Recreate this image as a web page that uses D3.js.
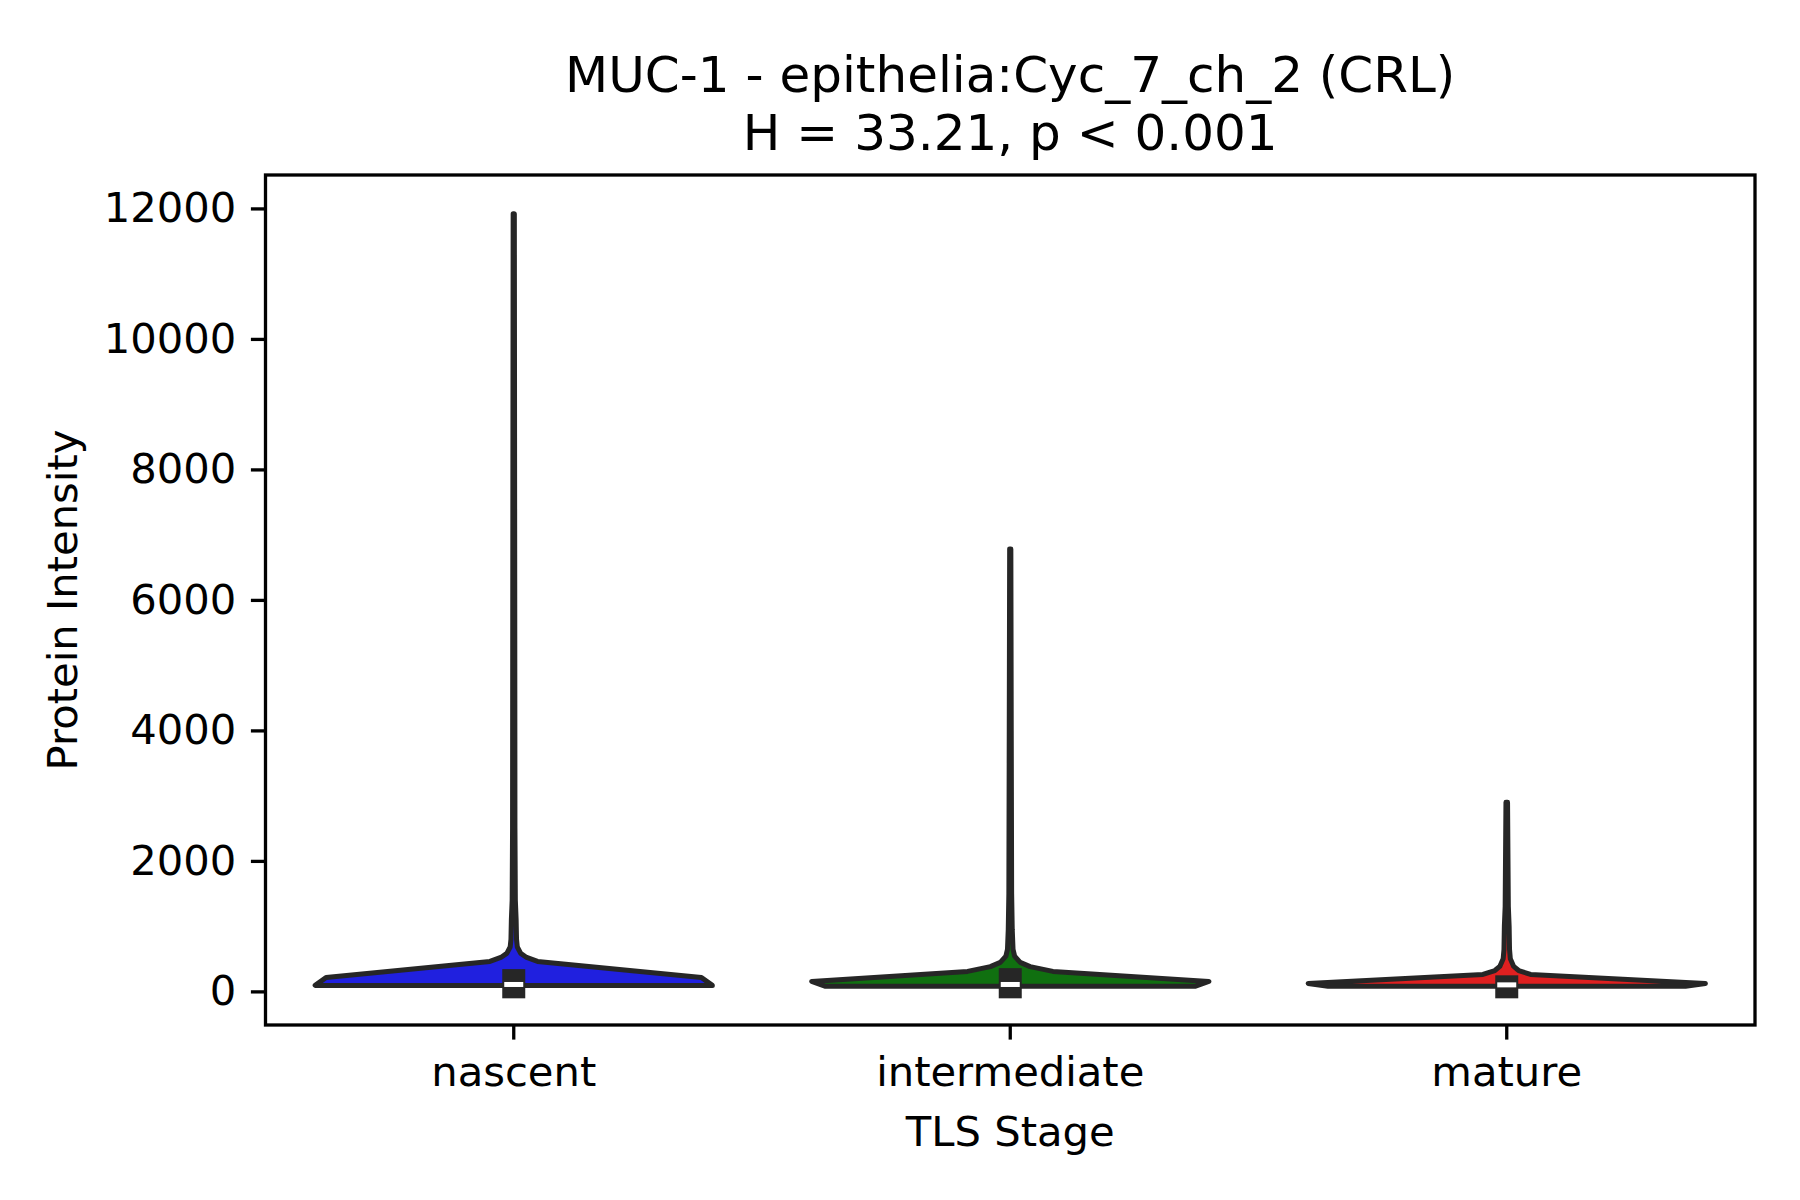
<!DOCTYPE html>
<html>
<head>
<meta charset="utf-8">
<script src="https://cdn.jsdelivr.net/npm/d3@7"></script>
<style>
  body { margin: 0; background: #fff; }
  svg { display: block; }
  text { font-family: "DejaVu Sans", sans-serif; fill: #000; }
</style>
</head>
<body>
<svg id="chart" width="1800" height="1200"></svg>
<script>
const stages = ['nascent', 'intermediate', 'mature'];
const fills = ['#2020df', '#107010', '#df2020'];

// violin outline: [intensity, relative half width]
const nascentShape = [[92, 1.0], [214, 0.945], [459, 0.12], [520, 0.065], [582, 0.035], [680, 0.018],
  [800, 0.014], [1100, 0.012], [1400, 0.008], [2500, 0.006], [6000, 0.005], [11920, 0.003]];
const intermediateShape = [[77, 0.93], [153, 1.0], [306, 0.215], [380, 0.1], [444, 0.05], [540, 0.022],
  [643, 0.014], [949, 0.01], [1500, 0.007], [4000, 0.005], [6780, 0.003]];
const matureShape = [[77, 0.9], [122, 1.0], [260, 0.12], [320, 0.06], [383, 0.035], [500, 0.018],
  [643, 0.014], [1000, 0.012], [1300, 0.008], [2900, 0.004]];
const shapes = [nascentShape, intermediateShape, matureShape];

// inner box
const q1 = [70, 70, 70];
const q3 = [165, 180, 70];
const medians = [106, 106, 100];

const yTicks = [0, 2000, 4000, 6000, 8000, 10000, 12000];

const margin = { left: 265.5, right: 45, top: 175, bottom: 175 };
const W = 1800, H = 1200;
const gray = '#262626';

const svg = d3.select('#chart');

// y limits like matplotlib's 5% margins
const allVals = shapes.flat().map(d => d[0]);
const lo = d3.min(allVals), hi = d3.max(allVals);
const pad = (hi - lo) * 0.05;

const x = d3.scaleBand()
  .domain(stages)
  .range([margin.left, W - margin.right])
  .padding(0);

const y = d3.scaleLinear()
  .domain([lo - pad, hi + pad])
  .range([H - margin.bottom, margin.top]);

const half = x.bandwidth() * 0.8 / 2;

// violins
stages.forEach((s, i) => {
  const cx = x(s) + x.bandwidth() / 2;
  const shp = shapes[i];
  const right = shp.map(d => [cx + d[1] * half, y(d[0])]);
  const left = shp.slice().reverse().map(d => [cx - d[1] * half, y(d[0])]);
  svg.append('path')
    .attr('d', d3.line()(right.concat(left)) + 'Z')
    .attr('fill', fills[i])
    .attr('stroke', gray)
    .attr('stroke-width', 5)
    .attr('stroke-linejoin', 'round');
});

// inner boxes
const boxW = 23;
stages.forEach((s, i) => {
  const cx = x(s) + x.bandwidth() / 2;
  svg.append('rect')
    .attr('x', cx - boxW / 2)
    .attr('width', boxW)
    .attr('y', y(q3[i]) - boxW / 2)
    .attr('height', y(q1[i]) - y(q3[i]) + boxW)
    .attr('fill', gray);
  svg.append('rect')
    .attr('x', cx - 9.5)
    .attr('width', 19)
    .attr('y', y(medians[i]) - 2.5)
    .attr('height', 5)
    .attr('fill', '#fff');
});

// frame
svg.append('rect')
  .attr('x', margin.left)
  .attr('y', margin.top)
  .attr('width', W - margin.left - margin.right)
  .attr('height', H - margin.top - margin.bottom)
  .attr('fill', 'none')
  .attr('stroke', '#000')
  .attr('stroke-width', 3.3);

const fontSize = 41.7;

const yAxis = svg.append('g')
  .attr('transform', `translate(${margin.left},0)`)
  .call(d3.axisLeft(y).tickValues(yTicks).tickFormat(d3.format('d'))
    .tickSize(14.6).tickPadding(14.6).tickSizeOuter(0));

const xAxis = svg.append('g')
  .attr('transform', `translate(0,${H - margin.bottom})`)
  .call(d3.axisBottom(x).tickSize(14.6).tickPadding(17).tickSizeOuter(0));

[yAxis, xAxis].forEach(g => {
  g.select('.domain').remove();
  g.selectAll('.tick line').attr('stroke', '#000').attr('stroke-width', 3.3);
  g.selectAll('.tick text')
    .attr('font-family', '"DejaVu Sans", sans-serif')
    .attr('font-size', fontSize)
    .attr('fill', '#000');
});

// labels
const cxAxes = (margin.left + W - margin.right) / 2;
svg.append('text')
  .attr('x', cxAxes).attr('y', 1146)
  .attr('text-anchor', 'middle')
  .attr('font-size', fontSize)
  .text('TLS Stage');

svg.append('text')
  .attr('transform', `translate(77,${(margin.top + H - margin.bottom) / 2}) rotate(-90)`)
  .attr('text-anchor', 'middle')
  .attr('font-size', fontSize)
  .text('Protein Intensity');

svg.append('text')
  .attr('x', cxAxes).attr('y', 92)
  .attr('text-anchor', 'middle')
  .attr('font-size', 50)
  .text('MUC-1 - epithelia:Cyc_7_ch_2 (CRL)');

svg.append('text')
  .attr('x', cxAxes).attr('y', 150)
  .attr('text-anchor', 'middle')
  .attr('font-size', 50)
  .text('H = 33.21, p < 0.001');
</script>
</body>
</html>
